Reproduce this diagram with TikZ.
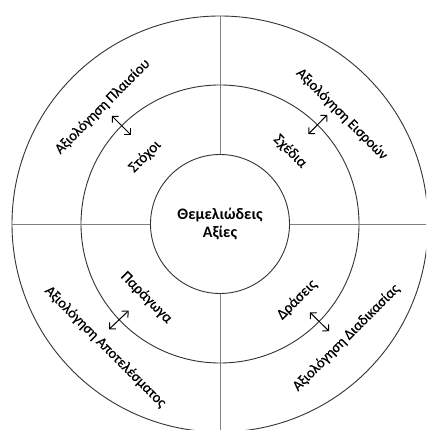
\documentclass[tikz,border=0pt]{standalone}
\usepackage{fontspec}
\setmainfont{Carlito}
\newfontfamily\lblfont{Carlito}[RawFeature={embolden=0.6}]
\usetikzlibrary{arrows.meta,calc}
\begin{document}
\begin{tikzpicture}[x=1pt,y=1pt,
  ring/.style={circle,draw=black!80,line width=0.9pt,inner sep=0pt},
  spoke/.style={draw=black!50,line width=0.9pt},
  lbl/.style={font=\lblfont\fontsize{14.5}{16}\selectfont,inner sep=0pt},
  ilbl/.style={font=\lblfont\fontsize{15}{17}\selectfont,inner sep=0pt},
  link/.style={draw=black,line width=1pt,{Straight Barb[length=4.5pt,width=9pt]}-{Straight Barb[length=4.5pt,width=9pt]}}]
  \useasboundingbox (0,0) rectangle (426,430);
  \clip (0,0) rectangle (426,430);
  \fill[white] (0,0) rectangle (426,430);
  \coordinate (c) at (220,206);
  % three concentric rings
  \node[ring,minimum size=416pt] (outer) at (c) {};
  \node[ring,minimum size=278pt] (middle) at (c) {};
  \node[ring,minimum size=139pt,align=center,
        font=\bfseries\fontsize{16}{18}\selectfont] (core) at (c)
        {Θεμελιώδεις\\Αξίες};
  % dividing spokes from the core to the outer ring
  \draw[spoke] (core.north) -- (outer.north);
  \draw[spoke] (core.south) -- (outer.south);
  \draw[spoke] (core.west) -- (outer.west);
  \draw[spoke] (core.east) -- (outer.east);
  % outer ring labels
  \node[lbl,rotate=45]  (ctx)  at ($(c)+(135:166)$) {Αξιολόγηση Πλαισίου};
  \node[lbl,rotate=-45] (inp)  at ($(c)+(42:164)$) {Αξιολόγηση Εισροών};
  \node[lbl,rotate=-45] (res)  at ($(c)+(227:168)$) {Αξιολόγηση Αποτελέσματος};
  \node[lbl,rotate=45]  (proc) at ($(c)+(318:170)$) {Αξιολόγηση Διαδικασίας};
  % middle ring labels
  \node[ilbl,rotate=45]  (goals)   at ($(c)+(138:101)$) {Στόχοι};
  \node[ilbl,rotate=-45] (plans)   at ($(c)+(46:101)$) {Σχέδια};
  \node[ilbl,rotate=-45] (outputs) at ($(c)+(225:104)$) {Παράγωγα};
  \node[ilbl,rotate=45]  (actions) at ($(c)+(315.5:108)$) {Δράσεις};
  % two-way arrows across the middle ring
  \foreach \a/\n in {135/a1,45.5/a2,223.5/a3,315.5/a4}{
    \coordinate (\n o) at ($(c)+(\a:153)$);
    \coordinate (\n i) at ($(c)+(\a:126)$);
    \draw[link] (\n o) -- (\n i);
  }
\end{tikzpicture}
\end{document}
